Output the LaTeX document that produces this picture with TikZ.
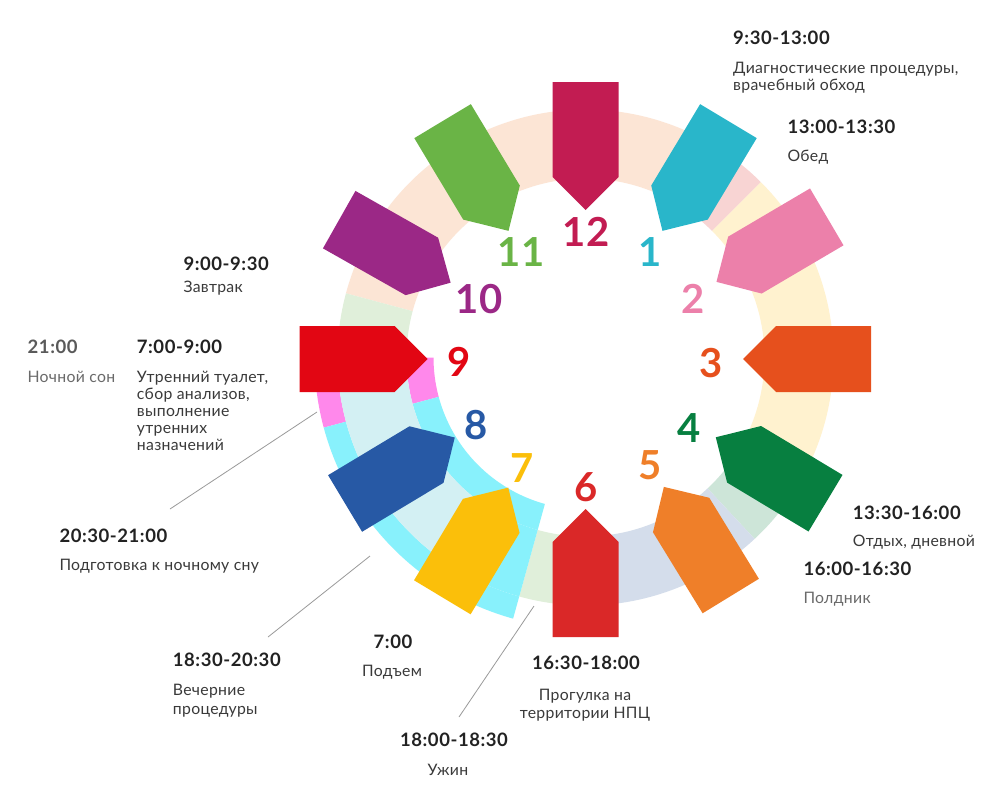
\documentclass[tikz,border=0pt]{standalone}
\usepackage{fontspec}
\setmainfont{Lato}
\newfontfamily\descfont[LetterSpace=2]{Lato}
\newfontfamily\timefont[LetterSpace=3]{Lato}
\definecolor{c12}{HTML}{C21C52}
\definecolor{c11}{HTML}{6AB446}
\definecolor{c1}{HTML}{29B6CA}
\definecolor{c10}{HTML}{9B2886}
\definecolor{c2}{HTML}{EC80AA}
\definecolor{c9}{HTML}{E20613}
\definecolor{c3}{HTML}{E6501D}
\definecolor{c8}{HTML}{2759A5}
\definecolor{c4}{HTML}{077F40}
\definecolor{c7}{HTML}{FBBF0A}
\definecolor{c5}{HTML}{EF7F29}
\definecolor{c6}{HTML}{DA2828}
\definecolor{peach}{HTML}{FCE5D5}
\definecolor{palegreen}{HTML}{E0EFDA}
\definecolor{palepink}{HTML}{F8D4D3}
\definecolor{paleyellow}{HTML}{FFF2CF}
\definecolor{mint}{HTML}{CDE5D8}
\definecolor{bluegray}{HTML}{D4DDEB}
\definecolor{brpink}{HTML}{FF88EB}
\definecolor{brcyan}{HTML}{88F1FC}
\definecolor{lightcyan}{HTML}{D3F0F3}
\definecolor{timec}{HTML}{222222}
\definecolor{descc}{HTML}{3A3A3A}
\definecolor{greyc}{HTML}{6A6A6A}
\definecolor{leader}{HTML}{9A9A9A}
\newcommand\ringsec[5]{\fill[#1] (#2:#5pt) arc[start angle=#2, end angle=#3, radius=#5pt] -- (#3:#4pt) arc[start angle=#3, end angle=#2, radius=#4pt] -- cycle;}
\newcommand\clockhand[3]{\fill[#1, shift={(585.5,359)}, rotate=#2] (#3pt,0pt) -- ++(33pt,33pt) -- ++(95pt,0pt) -- ++(0pt,-66pt) -- ++(-95pt,0pt) -- cycle;}
\begin{document}
\begin{tikzpicture}[x=1pt,y=-1pt,
  tm/.style={font=\timefont\fontsize{18.5}{20}\selectfont\bfseries, text=timec, inner sep=0pt, anchor=base west},
  ds/.style={font=\descfont\fontsize{15.8}{17.4}\selectfont, text=descc, inner sep=0pt, anchor=base west, align=left},
  num/.style={font=\fontsize{40}{40}\selectfont\bfseries, inner sep=0pt},
  lead/.style={draw=leader, line width=0.8pt}]
\fill[white] (0,0) rectangle (1000,800);
\useasboundingbox (0,0) rectangle (1000,800);
% ring
\begin{scope}[shift={(585.5,357.5)}]
\ringsec{peach}{55}{165}{179}{248}
\ringsec{palegreen}{165}{180}{179}{248}
\ringsec{palepink}{45}{55}{179}{248}
\ringsec{paleyellow}{-30}{45}{179}{248}
\ringsec{mint}{-47}{-30}{179}{248}
\ringsec{bluegray}{-90}{-47}{179}{248}
\ringsec{palegreen}{-105.5}{-90}{179}{248}
\ringsec{brpink}{180}{195}{248}{271}
\ringsec{brpink}{180}{195}{152}{179}
\ringsec{brcyan}{195}{254.5}{248}{271}
\ringsec{brcyan}{195}{254.5}{152}{179}
\ringsec{lightcyan}{180}{240}{179}{248}
\ringsec{brcyan}{240}{254.5}{179}{248}
\end{scope}
% hands
\clockhand{c12}{90}{149}
\clockhand{c11}{121}{149.5}
\clockhand{c1}{59}{149.5}
\clockhand{c10}{150.5}{155}
\clockhand{c2}{30.5}{152}
\clockhand{c9}{180}{158}
\clockhand{c3}{0}{157.5}
\clockhand{c4}{-31}{152}
\clockhand{c5}{-58.5}{150}
\clockhand{c6}{-90}{150}
\clockhand{c7}{-121}{150}
\clockhand{c8}{-149}{152.5}
% numbers
\node[num, text=c12] (n12) at (586,232) {12};
\node[num, text=c11] (n11) at (521,252) {11};
\node[num, text=c1] (n1) at (650,252) {1};
\node[num, text=c10] (n10) at (479,299) {10};
\node[num, text=c2] (n2) at (693.5,299) {2};
\node[num, text=c9] (n9) at (459,361.5) {9};
\node[num, text=c3] (n3) at (711.5,363) {3};
\node[num, text=c8] (n8) at (476,425.5) {8};
\node[num, text=c4] (n4) at (689.5,428.5) {4};
\node[num, text=c7] (n7) at (522,468.5) {7};
\node[num, text=c5] (n5) at (650.5,465.5) {5};
\node[num, text=c6] (n6) at (586.5,487.5) {6};
% texts (multi-line nodes are placed by the baseline of their last line)
\node[tm] (t930) at (733,44.3) {9:30-13:00};
\node[ds] (d930) at (733,90.7) {Диагностические процедуры,\\врачебный обход};
\node[tm] (t1300) at (787.3,133.3) {13:00-13:30};
\node[ds] (d1300) at (787.3,161.7) {Обед};
\node[tm] (t900) at (183.3,270) {9:00-9:30};
\node[ds] (d900) at (183.3,292.5) {Завтрак};
\node[tm, text=greyc!85!black] (t2100) at (27.5,353.3) {21:00};
\node[ds, text=greyc] (d2100) at (27.3,382.5) {Ночной сон};
\node[tm] (t700) at (136.7,353.3) {7:00-9:00};
\node[ds, font=\descfont\fontsize{15.8}{17}\selectfont] (d700) at (136.7,450.7) {Утренний туалет,\\сбор анализов,\\выполнение\\утренних\\назначений};
\node[tm] (t2030) at (59.3,542.7) {20:30-21:00};
\node[ds] (d2030) at (59.3,570.7) {Подготовка к ночному сну};
\node[tm] (t1830) at (172.7,666) {18:30-20:30};
\node[ds, font=\descfont\fontsize{15.8}{18.3}\selectfont] (d1830) at (172.7,714) {Вечерние\\процедуры};
\node[tm, anchor=base] (t7) at (393,648.3) {7:00};
\node[ds, anchor=base] (d7) at (392,676.7) {Подъем};
\node[tm, anchor=base] (t1800) at (454,746.7) {18:00-18:30};
\node[ds, anchor=base] (d1800) at (448,775) {Ужин};
\node[tm, anchor=base] (t1630) at (586,669) {16:30-18:00};
\node[ds, anchor=base, align=center, font=\descfont\fontsize{15.8}{18.3}\selectfont] (d1630) at (585,718.3) {Прогулка на\\территории НПЦ};
\node[tm] (t1330) at (852.7,519) {13:30-16:00};
\node[ds] (d1330) at (852.7,546.7) {Отдых, дневной};
\node[tm] (t1600) at (803.3,575) {16:00-16:30};
\node[ds, text=greyc] (d1600) at (803.3,603.3) {Полдник};
% leader lines
\coordinate (la1) at (317,412);
\coordinate (la2) at (170,509);
\coordinate (lb1) at (370,556);
\coordinate (lb2) at (268,637);
\coordinate (lc1) at (534,606);
\coordinate (lc2) at (459,717);
\draw[lead] (la1) -- (la2);
\draw[lead] (lb1) -- (lb2);
\draw[lead] (lc1) -- (lc2);
\end{tikzpicture}
\end{document}
